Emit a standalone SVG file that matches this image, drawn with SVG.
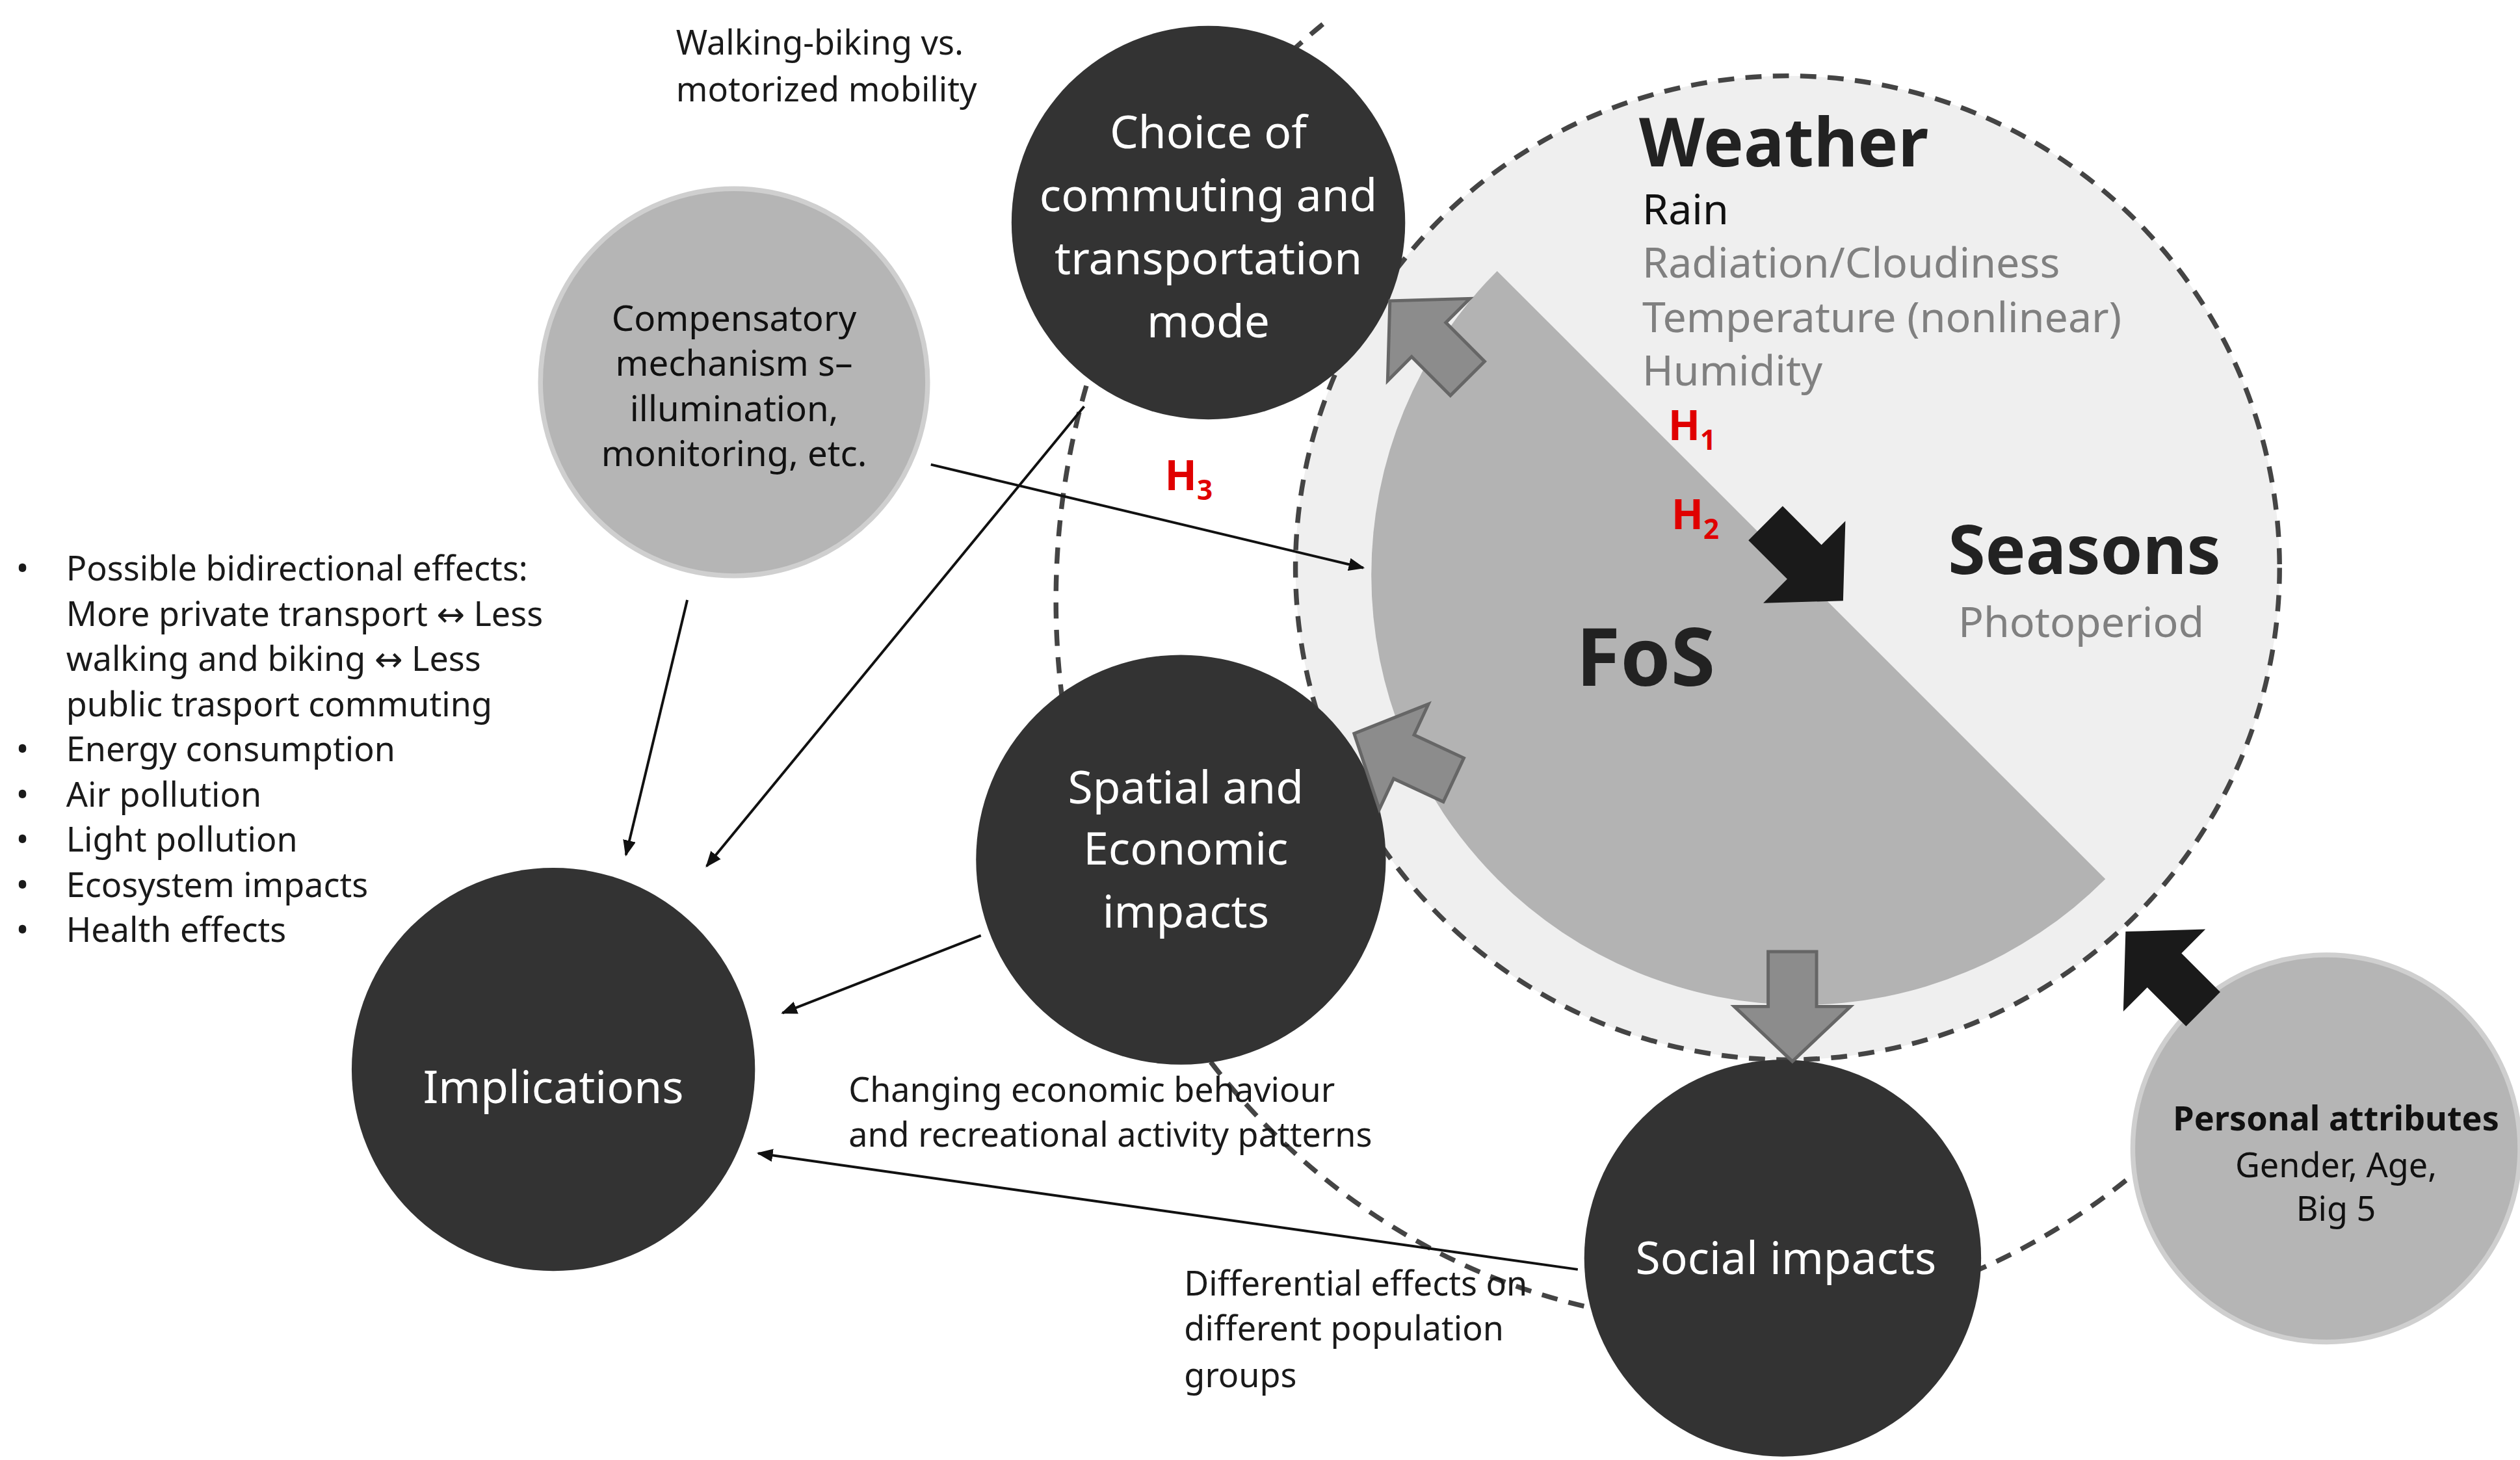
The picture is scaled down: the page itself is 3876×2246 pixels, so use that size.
<svg xmlns="http://www.w3.org/2000/svg" width="3876" height="2246" viewBox="0 0 3876 2246">
<style>
text{font-family:"Noto Sans","DejaVu Sans",sans-serif}
.dk{fill:#333333}
.lt{fill:#b5b5b5;stroke:#cfcfcf;stroke-width:3}
.wt{fill:#fff;font-size:28px;text-anchor:middle}
.bk{fill:#1a1a1a;font-size:21px}
.gy{fill:#808080;font-size:26px}
.ln{stroke:#111;stroke-width:1.6;fill:none}
.dash{stroke:#444;stroke-width:3;stroke-dasharray:10,7;fill:none}
.h{fill:#e00000;font-size:26px;font-weight:bold}
</style>
<defs>
<marker id="ah" markerWidth="10" markerHeight="8" refX="9" refY="4" orient="auto" markerUnits="userSpaceOnUse"><path d="M0,0 L10,4 L0,8 Z" fill="#111"/></marker>
<path id="blk" d="M-32,-15 L2,-15 L2,-36 L36,0 L2,36 L2,15 L-32,15 Z"/>
</defs>
<rect width="3876" height="2246" fill="#fff"/>
<g transform="scale(2.4814)">
<g id="rings">
<path class="dash" d="M820,15 A390,420 0 0 0 1320,730"/>
<circle cx="1108" cy="352" r="305" fill="#efefef" stroke="#444" stroke-width="3" stroke-dasharray="10,7"/>
</g>
<g id="fos">
<path d="M928,168 A266,266 0 0 0 1305,545 Z" fill="#b3b3b3"/>
<text x="1020" y="425" font-size="50" font-weight="bold" text-anchor="middle" fill="#222">FoS</text>
</g>
<g id="weather">
<text x="1016" y="103" font-size="42" font-weight="bold" fill="#222">Weather</text>
<text x="1018" y="139" font-size="26" fill="#111">Rain</text>
<text x="1018" y="172" class="gy">Radiation/Cloudiness</text>
<text x="1018" y="206" class="gy">Temperature (nonlinear)</text>
<text x="1018" y="239" class="gy">Humidity</text>
</g>
<g id="seasons">
<text x="1292" y="356" font-size="42" font-weight="bold" text-anchor="middle" fill="#222">Seasons</text>
<text x="1290" y="395" class="gy" text-anchor="middle">Photoperiod</text>
</g>
<g id="choice"><circle class="dk" cx="749" cy="138" r="122"/>
<text class="wt" x="749" y="92">Choice of</text><text class="wt" x="749" y="131">commuting and</text><text class="wt" x="749" y="170">transportation</text><text class="wt" x="749" y="209">mode</text></g>
<g id="comp"><circle class="lt" cx="455" cy="237" r="120"/>
<text x="455" y="205" font-size="22" text-anchor="middle" fill="#111">Compensatory</text><text x="455" y="233" font-size="22" text-anchor="middle" fill="#111">mechanism s–</text><text x="455" y="261" font-size="22" text-anchor="middle" fill="#111">illumination,</text><text x="455" y="289" font-size="22" text-anchor="middle" fill="#111">monitoring, etc.</text></g>
<g id="spatial"><circle class="dk" cx="732" cy="533" r="127"/>
<text class="wt" x="735" y="498">Spatial and</text><text class="wt" x="735" y="536">Economic</text><text class="wt" x="735" y="575">impacts</text></g>
<g id="impl"><circle class="dk" cx="343" cy="663" r="125"/><text class="wt" x="343" y="684" font-size="31">Implications</text></g>
<g id="social"><circle class="dk" cx="1105" cy="780" r="123"/><text class="wt" x="1107" y="790">Social impacts</text></g>
<g id="personal"><circle class="lt" cx="1442" cy="712" r="120"/>
<text x="1448" y="701" font-size="21" font-weight="bold" text-anchor="middle" fill="#111">Personal attributes</text>
<text x="1448" y="730" font-size="21" text-anchor="middle" fill="#111">Gender, Age,</text>
<text x="1448" y="757" font-size="21" text-anchor="middle" fill="#111">Big 5</text></g>
<g id="blocks">
<use href="#blk" transform="translate(887,212) rotate(-135)" fill="#8c8c8c" stroke="#666" stroke-width="2"/>
<use href="#blk" transform="translate(872,470) rotate(-155)" fill="#8c8c8c" stroke="#666" stroke-width="2"/>
<use href="#blk" transform="translate(1111,622) rotate(90)" fill="#8c8c8c" stroke="#666" stroke-width="2"/>
<use href="#blk" transform="translate(1117,347) rotate(45)" fill="#1a1a1a"/>
<use href="#blk" transform="translate(1343,603) rotate(-135)" fill="#1a1a1a"/>
</g>
<g id="hyp">
<text class="h" x="1034" y="273">H<tspan font-size="17" dy="6">1</tspan></text>
<text class="h" x="1036" y="328">H<tspan font-size="17" dy="6">2</tspan></text>
<text class="h" x="722" y="304">H<tspan font-size="17" dy="6">3</tspan></text>
</g>
<g id="connectors">
<line class="ln" x1="577" y1="288" x2="845" y2="352" marker-end="url(#ah)"/>
<line class="ln" x1="426" y1="372" x2="388" y2="530" marker-end="url(#ah)"/>
<line class="ln" x1="672" y1="252" x2="438" y2="537" marker-end="url(#ah)"/>
<line class="ln" x1="608" y1="580" x2="485" y2="628" marker-end="url(#ah)"/>
<line class="ln" x1="978" y1="787" x2="470" y2="715" marker-end="url(#ah)"/>
</g>
<g id="labels">
<text x="419" y="34" class="bk">Walking-biking vs.</text>
<text x="419" y="63" class="bk">motorized mobility</text>
<text x="526" y="683" class="bk">Changing economic behaviour</text>
<text x="526" y="711" class="bk">and recreational activity patterns</text>
<text x="734" y="803" class="bk">Differential effects on</text>
<text x="734" y="831" class="bk">different population</text>
<text x="734" y="860" class="bk">groups</text>
<g class="bk">
<text x="10" y="360">•</text><text x="41" y="360">Possible bidirectional effects:</text>
<text x="41" y="388">More private transport ↔ Less</text>
<text x="41" y="416">walking and biking ↔ Less</text>
<text x="41" y="444">public trasport commuting</text>
<text x="10" y="472">•</text><text x="41" y="472">Energy consumption</text>
<text x="10" y="500">•</text><text x="41" y="500">Air pollution</text>
<text x="10" y="528">•</text><text x="41" y="528">Light pollution</text>
<text x="10" y="556">•</text><text x="41" y="556">Ecosystem impacts</text>
<text x="10" y="584">•</text><text x="41" y="584">Health effects</text>
</g>
</g>
</g>
</svg>
